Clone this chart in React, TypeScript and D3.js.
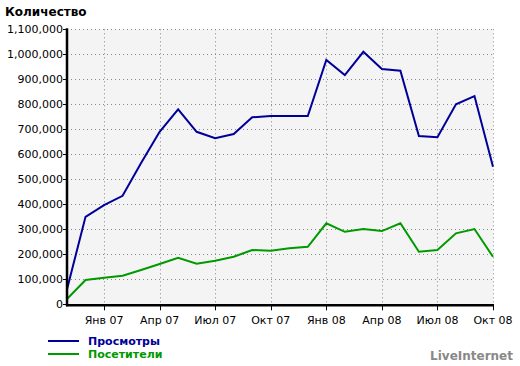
import React from "react";
import * as d3 from "d3";

const months = [
  "Ноя 06","Дек 06","Янв 07","Фев 07","Мар 07","Апр 07","Май 07","Июн 07","Июл 07","Авг 07","Сен 07","Окт 07",
  "Ноя 07","Дек 07","Янв 08","Фев 08","Мар 08","Апр 08","Май 08","Июн 08","Июл 08","Авг 08","Сен 08","Окт 08",
];
const views = [
  60000, 350000, 397000, 434000, 565000, 690000, 780000, 690000, 664000, 681000, 748000, 753000,
  753000, 753000, 977000, 917000, 1010000, 941000, 934000, 673000, 668000, 800000, 833000, 550000,
];
const visitors = [
  21000, 97000, 106000, 114000, 137000, 161000, 186000, 162000, 174000, 190000, 217000, 214000,
  224000, 230000, 324000, 290000, 301000, 293000, 324000, 210000, 217000, 284000, 301000, 190000,
];
const xTickIdx = [2, 5, 8, 11, 14, 17, 20, 23];
const xTickLabels = ["Янв 07", "Апр 07", "Июл 07", "Окт 07", "Янв 08", "Апр 08", "Июл 08", "Окт 08"];
const yTicks = [0, 100000, 200000, 300000, 400000, 500000, 600000, 700000, 800000, 900000, 1000000, 1100000];
const seriesNames = ["Просмотры", "Посетители"];
const seriesColors = ["#000099", "#009900"];

export default function App() {
  const W = 520, H = 366;
  const left = 67, right = 493, top = 29.3, bottom = 304.3;
  const x = d3.scaleLinear().domain([0, months.length - 1]).range([left, right]);
  const y = d3.scaleLinear().domain([0, 1100000]).range([bottom, top]);
  const line = d3.line<number>().x((_, i) => x(i)).y((d) => y(d));
  const fmt = d3.format(",");
  const font = "DejaVu Sans, Verdana, sans-serif";
  const series = [views, visitors];

  return (
    <div style={{ position: "absolute", left: 0, top: 0 }}>
      <svg width={W} height={H} style={{ display: "block", background: "#fff" }} fontFamily={font}>
        <rect x={left} y={top} width={right - left} height={bottom - top} fill="#f4f4f4" />
        {yTicks.map((t) => (
          <line key={"gy" + t} x1={left} x2={right} y1={Math.round(y(t)) + 0.5} y2={Math.round(y(t)) + 0.5}
            stroke="#888" strokeWidth={1} strokeDasharray="1,3" />
        ))}
        {xTickIdx.map((t) => (
          <line key={"gx" + t} x1={Math.round(x(t)) + 0.5} x2={Math.round(x(t)) + 0.5} y1={top} y2={bottom}
            stroke="#888" strokeWidth={1} strokeDasharray="1,3" />
        ))}
        {series.map((s, k) => (
          <path key={"s" + k} d={line(s) || ""} fill="none" stroke={seriesColors[k]} strokeWidth={2}
            strokeLinejoin="miter" />
        ))}
        <line x1={left} x2={left} y1={top - 1} y2={bottom + 2} stroke="#000" strokeWidth={2.5} />
        <line x1={left - 1} x2={right + 1} y1={bottom + 1} y2={bottom + 1} stroke="#000" strokeWidth={2.5} />
        {yTicks.map((t) => (
          <g key={"yt" + t}>
            <line x1={left - 4} x2={left} y1={Math.round(y(t)) + 0.5} y2={Math.round(y(t)) + 0.5} stroke="#000" />
            <text x={left - 4} y={y(t)} dy="0.35em" textAnchor="end" fontSize={11} fill="#000">
              {fmt(t)}
            </text>
          </g>
        ))}
        {xTickIdx.map((t, i) => (
          <g key={"xt" + t}>
            <line x1={Math.round(x(t)) + 0.5} x2={Math.round(x(t)) + 0.5} y1={bottom} y2={bottom + 6} stroke="#000" />
            <text x={x(t)} y={bottom + 16} dy="0.35em" textAnchor="middle" fontSize={11} fill="#000">
              {xTickLabels[i]}
            </text>
          </g>
        ))}
        <text x={5} y={16} fontSize={12} fontWeight="bold" fill="#000">Количество</text>
        {seriesNames.map((n, k) => (
          <g key={"lg" + k}>
            <line x1={48} x2={79} y1={341 + k * 13} y2={341 + k * 13} stroke={seriesColors[k]} strokeWidth={2} />
            <text x={88} y={341 + k * 13} dy="0.35em" fontSize={11} fontWeight="bold" fill={seriesColors[k]}>{n}</text>
          </g>
        ))}
        <text x={513} y={360} textAnchor="end" fontSize={12} fontWeight="bold" fill="#888">LiveInternet</text>
      </svg>
    </div>
  );
}
